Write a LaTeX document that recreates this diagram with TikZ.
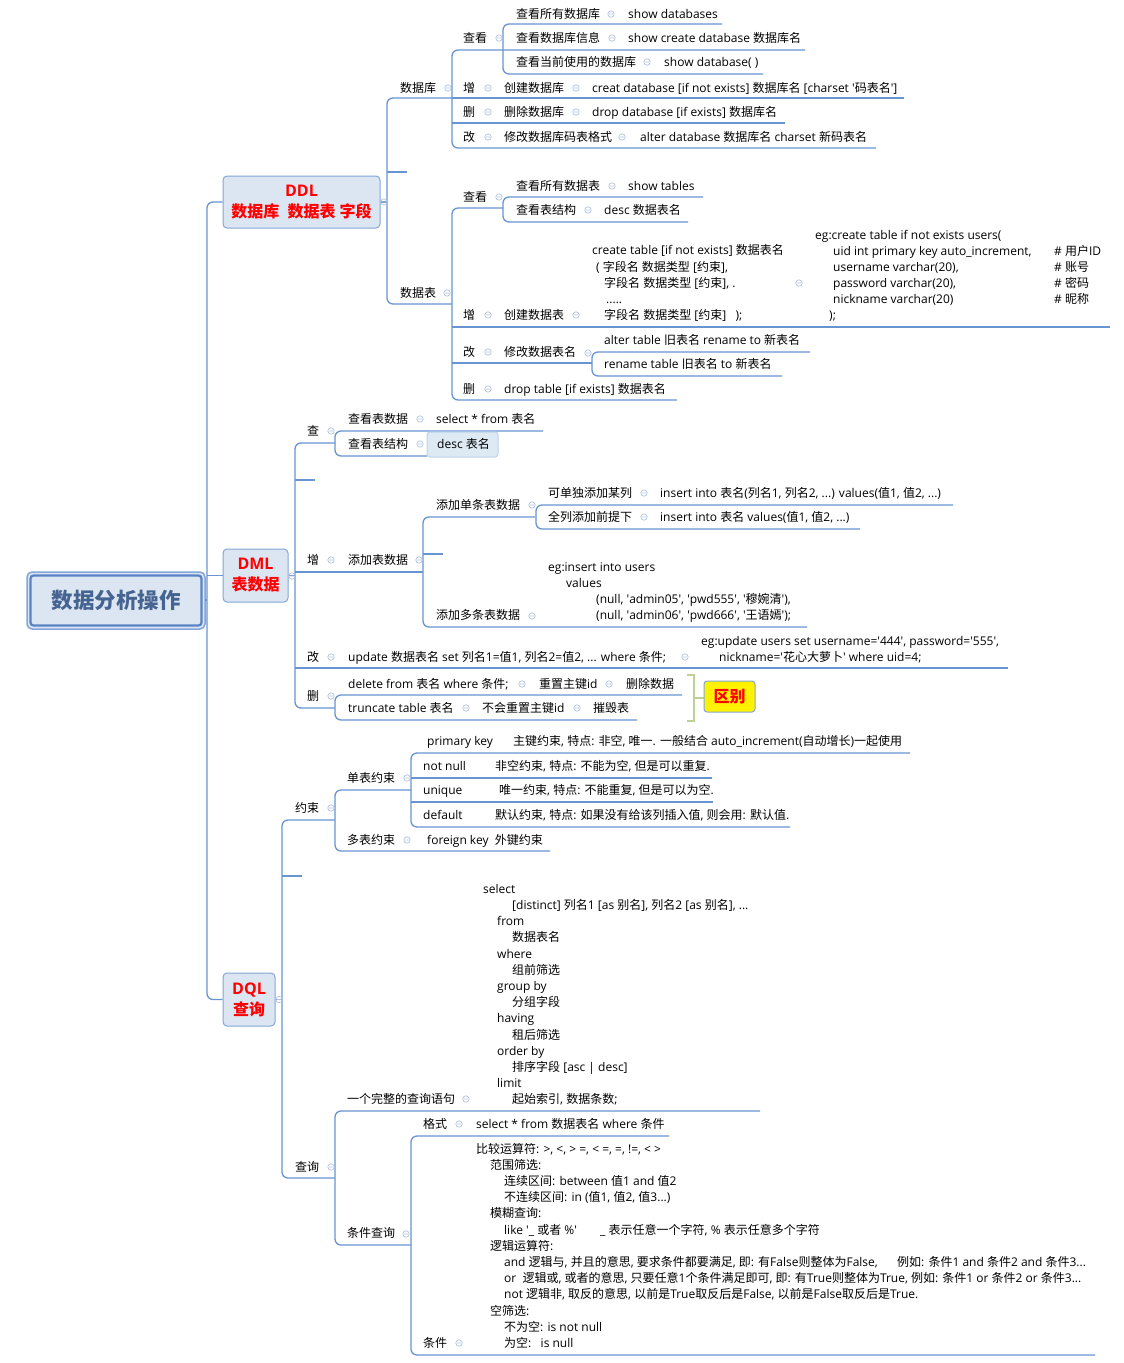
\documentclass[tikz,border=0pt]{standalone}
\usepackage{fontspec}
\setmainfont{Open Sans}
\newfontfamily\cjkf{Noto Sans CJK SC}
\newXeTeXintercharclass\cjkcls
\newcount\cjkcnt
\cjkcnt="4E00
\loop
  \XeTeXcharclass\cjkcnt=\cjkcls
  \advance\cjkcnt by 1
\ifnum\cjkcnt<"A000 \repeat
\XeTeXinterchartoks 0 \cjkcls = {\cjkf}
\XeTeXinterchartoks 4095 \cjkcls = {\cjkf}
\XeTeXinterchartoks \cjkcls 0 = {\rmfamily}
\XeTeXinterchartoks \cjkcls 4095 = {\rmfamily}
\XeTeXinterchartokenstate=1
\definecolor{lc}{RGB}{104,148,210}
\definecolor{cmc}{RGB}{180,196,222}
\definecolor{boxf}{RGB}{220,230,242}
\definecolor{boxd}{RGB}{132,166,216}
\definecolor{rootd}{RGB}{88,130,196}
\definecolor{roottxt}{RGB}{70,100,145}
\definecolor{brk}{RGB}{190,208,150}
\definecolor{descf}{RGB}{221,233,243}
\definecolor{descd}{RGB}{190,212,232}
\newcommand\sq{\textquotesingle}
\newcommand\tn[4]{\node[tx] (#1) at (#2,#3) {#4};}
\newcommand\cmk[2]{\draw[cmstyle] (#1,#2) circle[radius=3.2pt] (#1-1.8,#2) -- (#1+1.8,#2);}
\begin{document}
\begin{tikzpicture}[x=1pt,y=-1pt,
  tx/.style={anchor=west,inner sep=0pt,text height=10.5pt,text depth=1.5pt,font=\fontsize{12}{14}\selectfont},
  ln/.style={draw=lc,line width=1.3pt,rounded corners=6pt},
  cmstyle/.style={draw=cmc,line width=0.7pt},
  cat/.style={draw=boxd,fill=boxf,rounded corners=4pt,line width=1pt,align=center,text=red,inner sep=0pt,font=\bfseries\fontsize{16}{21}\selectfont}]
\fill[white] (0,0) rectangle (1124,1363);
\useasboundingbox (0,0) rectangle (1124,1363);

% ---------- root and main categories ----------
\draw[draw=boxd,line width=1.5pt,fill=boxf,rounded corners=5pt] (27,572) rectangle (205,629);
\draw[draw=rootd,line width=2.2pt,rounded corners=3pt] (30.5,575.5) rectangle (201.5,625.5);
\node[inner sep=0pt,text=roottxt,font=\bfseries\fontsize{21.5}{24}\selectfont] (root) at (116,600) {数据分析操作};
\node[cat,minimum width=157pt,minimum height=52pt] (ddl) at (301.5,202) {DDL\\数据库\ \ 数据表 字段};
\node[cat,minimum width=65pt,minimum height=53pt] (dml) at (255.5,575.5) {DML\\表数据};
\node[cat,minimum width=52pt,minimum height=53pt] (dql) at (249,999.5) {DQL\\查询};

\draw[ln] (205,600) -- (207,600);
\draw[ln] (ddl.west) -- (207,202) -- (207,999.5) -- (dql.west);
\draw[ln] (207,575.5) -- (dml.west);

% ---------- DDL ----------
\draw[ln] (ddl.east) -- (387,202);
\draw[ln] (452,98) -- (387,98) -- (387,304) -- (452,304);
\draw[ln] (387,172) -- (407,172);
\draw[ln] (805,50) -- (452,50) -- (452,148) -- (876,148);
\draw[ln] (452,98) -- (904,98);
\draw[ln] (452,123) -- (785,123);
\draw[ln] (722,24) -- (503,24) -- (503,74) -- (763,74);
\draw[ln] (503,208) -- (452,208) -- (452,400) -- (677,400);
\draw[ln] (703,197) -- (503,197) -- (503,222) -- (688,222);
\draw[ln] (452,327) -- (1110,327);
\draw[ln] (452,363) -- (592,363);
\draw[ln] (810,352) -- (592,352) -- (592,376) -- (782,376);

\tn{db}{400}{88}{数据库}
\tn{dbck}{463}{38}{查看}
\tn{dba1}{516}{14}{查看所有数据库}
\tn{dba2}{628}{14}{show databases}
\tn{dbb1}{516}{38}{查看数据库信息}
\tn{dbb2}{628}{38}{show create database 数据库名}
\tn{dbc1}{516}{62}{查看当前使用的数据库}
\tn{dbc2}{664}{62}{show database( )}
\tn{dbz}{463}{88}{增}
\tn{dbz1}{504}{88}{创建数据库}
\tn{dbz2}{592}{88}{creat database [if not exists] 数据库名 [charset \sq 码表名\sq]}
\tn{dbs}{463}{112}{删}
\tn{dbs1}{504}{112}{删除数据库}
\tn{dbs2}{592}{112}{drop database [if exists] 数据库名}
\tn{dbg}{463}{137}{改}
\tn{dbg1}{504}{137}{修改数据库码表格式}
\tn{dbg2}{640}{137}{alter database 数据库名 charset 新码表名}

\tn{tb}{400}{293}{数据表}
\tn{tbck}{463}{197}{查看}
\tn{tba1}{516}{186}{查看所有数据表}
\tn{tba2}{628}{186}{show tables}
\tn{tbb1}{516}{210}{查看表结构}
\tn{tbb2}{604}{210}{desc 数据表名}
\tn{tbz}{463}{315}{增}
\tn{tbz1}{504}{315}{创建数据表}
\tn{ct1}{592}{250}{create table [if not exists] 数据表名}
\tn{ct2}{596}{267}{( 字段名 数据类型 [约束],}
\tn{ct3}{604}{283}{字段名 数据类型 [约束], .}
\tn{ct4}{606}{299}{.....}
\tn{ct5}{604}{315}{字段名 数据类型 [约束]\ \ \ );}
\tn{eg1}{815}{235}{eg:create table if not exists users(}
\tn{eg2}{833}{251}{uid int primary key auto\_increment,}
\tn{eg3}{833}{267}{username varchar(20),}
\tn{eg4}{833}{283}{password varchar(20),}
\tn{eg5}{833}{299}{nickname varchar(20)}
\tn{eg6}{829}{315}{);}
\tn{cm1}{1054}{251}{\# 用户ID}
\tn{cm2}{1054}{267}{\# 账号}
\tn{cm3}{1054}{283}{\# 密码}
\tn{cm4}{1054}{299}{\# 昵称}
\tn{tbg}{463}{352}{改}
\tn{tbg1}{504}{352}{修改数据表名}
\tn{tbg2}{604}{340}{alter table 旧表名 rename to 新表名}
\tn{tbg3}{604}{364}{rename table 旧表名 to 新表名}
\tn{tbs}{463}{389}{删}
\tn{tbs1}{504}{389}{drop table [if exists] 数据表名}

\cmk{384}{202}
\cmk{448}{88} \cmk{499}{38} \cmk{611}{14} \cmk{612}{38} \cmk{647}{62}
\cmk{488}{88} \cmk{576}{88} \cmk{488}{112} \cmk{576}{112} \cmk{488}{137} \cmk{622}{137}
\cmk{447}{293} \cmk{499}{197} \cmk{612}{186} \cmk{588}{210} \cmk{488}{315} \cmk{576}{315}
\cmk{799}{283} \cmk{488}{352} \cmk{588}{353} \cmk{488}{389}

% ---------- DML ----------
\draw[ln] (dml.east) -- (295,575.5);
\draw[ln] (335,443) -- (295,443) -- (295,708) -- (335,708);
\draw[ln] (295,480) -- (315,480);
\draw[ln] (543,431) -- (335,431) -- (335,456) -- (427,456);
\draw[ln] (295,572) -- (423,572);
\draw[ln] (535,517) -- (423,517) -- (423,627) -- (807,627);
\draw[ln] (423,554) -- (443,554);
\draw[ln] (953,505) -- (536,505) -- (536,529) -- (860,529);
\draw[ln] (295,668) -- (1008,668);
\draw[ln] (682,695) -- (335,695) -- (335,720) -- (637,720);

\tn{mc}{307}{431}{查}
\tn{mc1}{348}{419}{查看表数据}
\tn{mc2}{436}{419}{select * from 表名}
\tn{mc3}{348}{444}{查看表结构}
\node[draw=descd,fill=descf,rounded corners=3pt,line width=1pt,minimum width=71pt,minimum height=25pt,inner sep=0pt] (descbox) at (462.5,444.5) {};
\tn{mc4}{437}{444}{desc 表名}
\tn{mz}{307}{560}{增}
\tn{mz1}{348}{560}{添加表数据}
\tn{mz2}{436}{505}{添加单条表数据}
\tn{mz3}{548}{493}{可单独添加某列}
\tn{mz4}{660}{493}{insert into 表名(列名1, 列名2, ...) values(值1, 值2, ...)}
\tn{mz5}{548}{517}{全列添加前提下}
\tn{mz6}{660}{517}{insert into 表名 values(值1, 值2, ...)}
\tn{mz7}{436}{615}{添加多条表数据}
\tn{mi1}{548}{567}{eg:insert into users}
\tn{mi2}{566}{583}{values}
\tn{mi3}{596}{599}{(null, \sq admin05\sq, \sq pwd555\sq, \sq 穆婉清\sq),}
\tn{mi4}{596}{615}{(null, \sq admin06\sq, \sq pwd666\sq, \sq 王语嫣\sq);}
\tn{mg}{307}{657}{改}
\tn{mg1}{348}{657}{update 数据表名 set 列名1=值1, 列名2=值2, ... where 条件;}
\tn{mg2}{701}{641}{eg:update users set username=\sq 444\sq, password=\sq 555\sq,}
\tn{mg3}{719}{657}{nickname=\sq 花心大萝卜\sq\ where uid=4;}
\tn{ms}{307}{696}{删}
\tn{ms1}{348}{684}{delete from 表名 where 条件;}
\tn{ms2}{539}{684}{重置主键id}
\tn{ms3}{626}{684}{删除数据}
\tn{ms4}{348}{708}{truncate table 表名}
\tn{ms5}{482}{708}{不会重置主键id}
\tn{ms6}{593}{708}{摧毁表}

\draw[draw=brk,line width=2pt] (687,675) -- (694,675) -- (694,721) -- (687,721) (694,698) -- (704,698);
\node[draw=boxd,fill=yellow,rounded corners=3pt,line width=1pt,minimum width=51pt,minimum height=31pt,inner sep=0pt,text=red,font=\bfseries\fontsize{16}{18}\selectfont] (diff) at (729.5,696.5) {区别};

\cmk{292}{576}
\cmk{331}{431} \cmk{420}{419} \cmk{420}{444} \cmk{331}{560} \cmk{419}{560}
\cmk{532}{505} \cmk{644}{493} \cmk{644}{517} \cmk{532}{616} \cmk{331}{657} \cmk{685}{657}
\cmk{331}{696} \cmk{522}{684} \cmk{609}{684} \cmk{466}{708} \cmk{577}{708}

% ---------- DQL ----------
\draw[ln] (dql.east) -- (282,999.5);
\draw[ln] (335,820) -- (282,820) -- (282,1178) -- (335,1178);
\draw[ln] (282,876) -- (302,876);
\draw[ln] (411,790) -- (335,790) -- (335,851) -- (550,851);
\draw[ln] (910,753) -- (411,753) -- (411,827) -- (790,827);
\draw[ln] (411,778) -- (712,778);
\draw[ln] (411,802) -- (713,802);
\draw[ln] (760,1111) -- (335,1111) -- (335,1245) -- (411,1245);
\draw[ln] (669,1136) -- (411,1136) -- (411,1355) -- (1095,1355);

\tn{ys}{295}{808}{约束}
\tn{ys1}{347}{778}{单表约束}
\tn{pk1}{427}{741}{primary key}
\tn{pk2}{513}{741}{主键约束, 特点: 非空, 唯一. 一般结合 auto\_increment(自动增长)一起使用}
\tn{nn1}{423}{766}{not null}
\tn{nn2}{495}{766}{非空约束, 特点: 不能为空, 但是可以重复.}
\tn{uq1}{423}{790}{unique}
\tn{uq2}{499}{790}{唯一约束, 特点: 不能重复, 但是可以为空.}
\tn{df1}{423}{815}{default}
\tn{df2}{495}{815}{默认约束, 特点: 如果没有给该列插入值, 则会用: 默认值.}
\tn{ys2}{347}{840}{多表约束}
\tn{fk}{427}{840}{foreign key\ \ 外键约束}

\tn{sq0}{347}{1099}{一个完整的查询语句}
\tn{sl1}{483}{889}{select}
\tn{sl2}{512}{905}{[distinct] 列名1 [as 别名], 列名2 [as 别名], ...}
\tn{sl3}{497}{921}{from}
\tn{sl4}{512}{937}{数据表名}
\tn{sl5}{497}{954}{where}
\tn{sl6}{512}{970}{组前筛选}
\tn{sl7}{497}{986}{group by}
\tn{sl8}{512}{1002}{分组字段}
\tn{sl9}{497}{1018}{having}
\tn{sl10}{512}{1035}{租后筛选}
\tn{sl11}{497}{1051}{order by}
\tn{sl12}{512}{1067}{排序字段 [asc | desc]}
\tn{sl13}{497}{1083}{limit}
\tn{sl14}{512}{1099}{起始索引, 数据条数;}

\tn{cx}{295}{1167}{查询}
\tn{tj}{347}{1233}{条件查询}
\tn{gs}{423}{1124}{格式}
\tn{gs1}{476}{1124}{select * from 数据表名 where 条件}
\tn{tjn}{423}{1343}{条件}
\tn{c1}{476}{1149}{比较运算符: >, <, > =, < =, =, !=, < >}
\tn{c2}{490}{1165}{范围筛选:}
\tn{c3}{504}{1181}{连续区间: between 值1 and 值2}
\tn{c4}{504}{1197}{不连续区间: in (值1, 值2, 值3...)}
\tn{c5}{490}{1213}{模糊查询:}
\tn{c6}{504}{1230}{like \sq\_ 或者 \%\sq}
\tn{c6b}{600}{1230}{\_ 表示任意一个字符, \% 表示任意多个字符}
\tn{c7}{490}{1246}{逻辑运算符:}
\tn{c8}{504}{1262}{and 逻辑与, 并且的意思, 要求条件都要满足, 即: 有False则整体为False,}
\tn{c8b}{897}{1262}{例如: 条件1 and 条件2 and 条件3...}
\tn{c9}{504}{1278}{or\ \ 逻辑或, 或者的意思, 只要任意1个条件满足即可, 即: 有True则整体为True, 例如: 条件1 or 条件2 or 条件3...}
\tn{c10}{504}{1294}{not 逻辑非, 取反的意思, 以前是True取反后是False, 以前是False取反后是True.}
\tn{c11}{490}{1311}{空筛选:}
\tn{c12}{504}{1327}{不为空: is not null}
\tn{c13}{504}{1343}{为空:\ \ \ is null}

\cmk{279}{999.5}
\cmk{331}{808} \cmk{407}{778} \cmk{407}{840} \cmk{466}{1099}
\cmk{331}{1167} \cmk{406}{1234} \cmk{459}{1124} \cmk{459}{1343}
\end{tikzpicture}
\end{document}
